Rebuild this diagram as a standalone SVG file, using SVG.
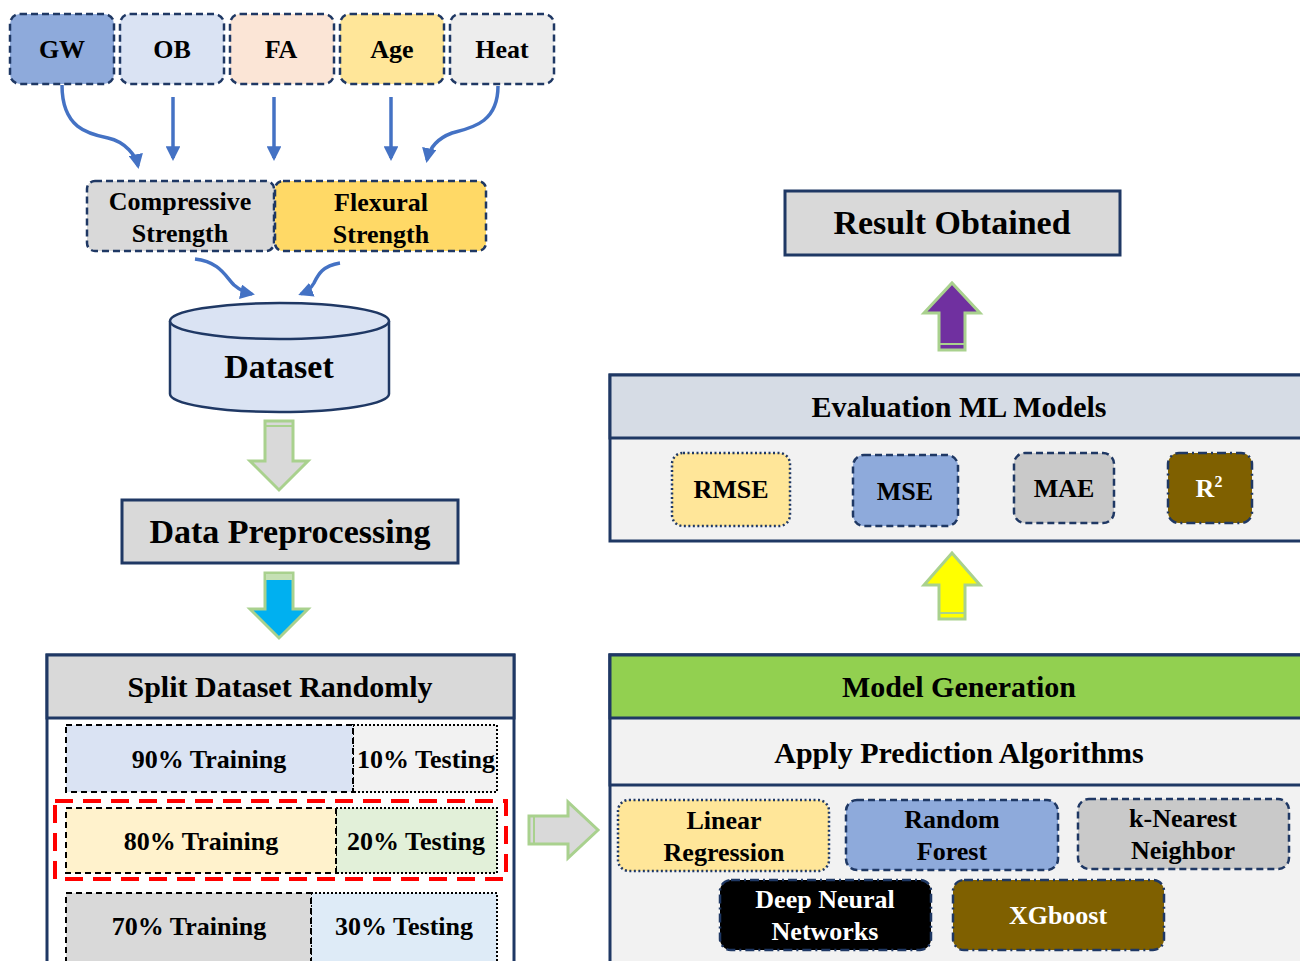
<svg xmlns="http://www.w3.org/2000/svg" width="1300" height="961" viewBox="0 0 1300 961">
  <defs>
    <style>
      text { font-family: "Liberation Serif", "Times New Roman", serif; font-weight: bold; fill: #000; text-anchor: middle; }
      .t26 { font-size: 26px; }
      .t30 { font-size: 30px; }
      .t34 { font-size: 34px; }
      .w { fill: #fff; }
      .dash { stroke: #1f3864; stroke-width: 2.5; stroke-dasharray: 7 4; }
      .dot { stroke: #1f3864; stroke-width: 2.5; stroke-dasharray: 2 2.5; }
      .dashdot { stroke: #1f3864; stroke-width: 2.5; stroke-dasharray: 9 4 2 4; }
      .frame { stroke: #1f3864; stroke-width: 3; }
      .bdash { stroke: #000; stroke-width: 2; stroke-dasharray: 6 4; }
      .bdot { stroke: #000; stroke-width: 2; stroke-dasharray: 2 2; }
      .link { fill: none; stroke: #4472c4; stroke-width: 3.5; }
      .block { stroke: #a9d18e; stroke-width: 3; stroke-linejoin: miter; }
    </style>
    <marker id="tip" viewBox="0 0 10 10" refX="8" refY="5" markerWidth="4.2" markerHeight="4.2" orient="auto" markerUnits="strokeWidth">
      <path d="M0,0 L10,5 L0,10 z" fill="#4472c4"/>
    </marker>
  </defs>

  <rect width="1300" height="961" fill="#fff"/>

  <!-- input variables -->
  <g id="gw"><rect x="10" y="14" width="104" height="70" rx="10" fill="#8eaadb" class="dash"/><text class="t26" x="62" y="58">GW</text></g>
  <g id="ob"><rect x="120" y="14" width="104" height="70" rx="10" fill="#dae3f3" class="dash"/><text class="t26" x="172" y="58">OB</text></g>
  <g id="fa"><rect x="230" y="14" width="104" height="70" rx="10" fill="#fbe5d6" class="dash"/><text class="t26" x="281" y="58">FA</text></g>
  <g id="age"><rect x="340" y="14" width="104" height="70" rx="10" fill="#ffe699" class="dash"/><text class="t26" x="392" y="58">Age</text></g>
  <g id="heat"><rect x="450" y="14" width="104" height="70" rx="10" fill="#ededed" class="dash"/><text class="t26" x="502" y="58">Heat</text></g>

  <!-- targets -->
  <g id="compressive"><rect x="87" y="181" width="187" height="70" rx="8" fill="#d9d9d9" class="dash"/><text class="t26" x="180" y="210">Compressive</text><text class="t26" x="180" y="242">Strength</text></g>
  <g id="flexural"><rect x="275" y="181" width="211" height="70" rx="8" fill="#ffd966" class="dash"/><text class="t26" x="381" y="211">Flexural</text><text class="t26" x="381" y="243">Strength</text></g>

  <!-- dataset cylinder -->
  <g id="dataset">
    <path d="M170,321 L170,394 A109.5,18 0 0 0 389,394 L389,321" fill="#dae3f3" stroke="#1f3864" stroke-width="2.5"/>
    <ellipse cx="279.5" cy="321" rx="109.5" ry="18" fill="#dae3f3" stroke="#1f3864" stroke-width="2.5"/>
    <text class="t34" x="279" y="378">Dataset</text>
  </g>

  <g id="preprocessing"><rect x="122" y="500" width="336" height="63" fill="#d9d9d9" class="frame"/><text class="t34" x="290" y="543">Data Preprocessing</text></g>

  <!-- split dataset panel -->
  <g id="split">
    <rect x="47" y="655" width="467" height="320" fill="#fff" class="frame"/>
    <rect x="47" y="655" width="467" height="63" fill="#d9d9d9" class="frame"/>
    <text class="t30" x="280" y="697">Split Dataset  Randomly</text>
    <rect x="353" y="725" width="144" height="67" fill="#f2f2f2" class="bdot"/>
    <rect x="66" y="725" width="287" height="67" fill="#dae3f3" class="bdash"/>
    <text class="t26" x="209" y="768">90% Training</text>
    <text class="t26" x="426" y="768">10% Testing</text>
    <rect x="336" y="808" width="161" height="65" fill="#e2f0d9" class="bdot"/>
    <rect x="66" y="808" width="270" height="65" fill="#fff2cc" class="bdash"/>
    <text class="t26" x="201" y="850">80% Training</text>
    <text class="t26" x="416" y="850">20% Testing</text>
    <rect x="55" y="801" width="451" height="78" fill="none" stroke="#ff0000" stroke-width="4" stroke-dasharray="18 10"/>
    <rect x="311" y="893" width="186" height="75" fill="#deebf7" class="bdot"/>
    <rect x="66" y="893" width="245" height="75" fill="#d9d9d9" class="bdash"/>
    <text class="t26" x="189" y="935">70% Training</text>
    <text class="t26" x="404" y="935">30% Testing</text>
  </g>

  <!-- result -->
  <g id="result"><rect x="785" y="191" width="335" height="64" fill="#d9d9d9" class="frame"/><text class="t34" x="952" y="234">Result Obtained</text></g>

  <!-- evaluation panel -->
  <g id="evaluation">
    <rect x="610" y="375" width="700" height="166" fill="#f2f2f2" class="frame"/>
    <rect x="610" y="375" width="700" height="63" fill="#d6dce5" class="frame"/>
    <text class="t30" x="959" y="417">Evaluation  ML Models</text>
    <rect x="672" y="453" width="118" height="73" rx="11" fill="#ffe699" class="dot"/>
    <text class="t26" x="731" y="498">RMSE</text>
    <rect x="853" y="455" width="105" height="71" rx="11" fill="#8eaadb" class="dash"/>
    <text class="t26" x="905" y="500">MSE</text>
    <rect x="1014" y="453" width="100" height="70" rx="11" fill="#c9c9c9" class="dash"/>
    <text class="t26" x="1064" y="497">MAE</text>
    <rect x="1168" y="453" width="84" height="70" rx="11" fill="#7f6000" class="dashdot"/>
    <text class="t26 w" x="1209" y="497">R<tspan font-size="16" dy="-10">2</tspan></text>
  </g>

  <!-- model generation panel -->
  <g id="models">
    <rect x="610" y="655" width="700" height="320" fill="#f2f2f2" class="frame"/>
    <rect x="610" y="655" width="700" height="130" fill="#f2f2f2" class="frame"/>
    <rect x="610" y="655" width="700" height="63" fill="#92d050" class="frame"/>
    <text class="t30" x="959" y="697">Model Generation</text>
    <text class="t30" x="959" y="763">Apply Prediction Algorithms</text>
    <rect x="618" y="800" width="211" height="71" rx="11" fill="#ffe699" class="dot"/>
    <text class="t26" x="724" y="829">Linear</text><text class="t26" x="724" y="861">Regression</text>
    <rect x="846" y="800" width="212" height="70" rx="11" fill="#8eaadb" class="dash"/>
    <text class="t26" x="952" y="828">Random</text><text class="t26" x="952" y="860">Forest</text>
    <rect x="1078" y="799" width="211" height="70" rx="11" fill="#c9c9c9" class="dash"/>
    <text class="t26" x="1183" y="827">k-Nearest</text><text class="t26" x="1183" y="859">Neighbor</text>
    <rect x="720" y="880" width="211" height="70" rx="11" fill="#000" class="dashdot"/>
    <text class="t26 w" x="825" y="908">Deep Neural</text><text class="t26 w" x="825" y="940">Networks</text>
    <rect x="953" y="880" width="211" height="70" rx="11" fill="#7f6000" class="dashdot"/>
    <text class="t26 w" x="1058" y="924">XGboost</text>
  </g>

  <!-- connectors -->
  <g id="connectors">
    <path class="link" marker-end="url(#tip)" d="M62,85 C62,128 88,134 108,138 C126,142 136,156 138,166"/>
    <path class="link" marker-end="url(#tip)" d="M173,97 L173,158"/>
    <path class="link" marker-end="url(#tip)" d="M274,97 L274,158"/>
    <path class="link" marker-end="url(#tip)" d="M391,97 L391,158"/>
    <path class="link" marker-end="url(#tip)" d="M498,86 C498,124 470,128 452,133 C436,139 429,150 427,160"/>
    <path class="link" marker-end="url(#tip)" d="M195,259 C220,262 225,276 234,285 C241,291 247,293 252,294"/>
    <path class="link" marker-end="url(#tip)" d="M340,263 C322,266 318,275 314,283 C310,290 306,292 301,294"/>

    <!-- block arrows -->
    <polygon class="block" fill="#d9d9d9" points="265,421 293,421 293,461 308,461 279,490 250,461 265,461"/>
    <line x1="266" y1="426" x2="292" y2="426" stroke="#a9d18e" stroke-width="2"/>
    <polygon class="block" fill="#00b0f0" points="265,573 293,573 293,609 308,609 279,638 250,609 265,609"/>
    <rect x="266" y="574" width="26" height="6" fill="#c5e0b4"/>
    <polygon class="block" fill="#d9d9d9" points="529,816 568,816 568,802 598,830 568,858 568,844 529,844"/>
    <line x1="534" y1="817" x2="534" y2="843" stroke="#a9d18e" stroke-width="2"/>
    <polygon class="block" fill="#ffff00" points="939,619 965,619 965,585 980,585 952,553 924,585 939,585"/>
    <line x1="940" y1="613" x2="964" y2="613" stroke="#a9d18e" stroke-width="2"/>
    <polygon class="block" fill="#7030a0" points="939,350 965,350 965,313 980,313 952,283 924,313 939,313"/>
    <line x1="940" y1="344" x2="964" y2="344" stroke="#a9d18e" stroke-width="2"/>
  </g>
</svg>
